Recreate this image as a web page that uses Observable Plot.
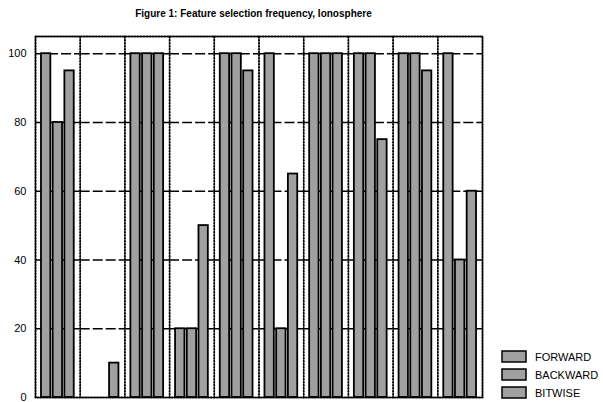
<!DOCTYPE html>
<html>
<head>
<meta charset="utf-8">
<script src="https://cdn.jsdelivr.net/npm/d3@7"></script>
<script src="https://cdn.jsdelivr.net/npm/@observablehq/plot@0.6"></script>
<style>
  html, body { margin: 0; padding: 0; background: #fff; }
  #wrap { position: relative; width: 603px; height: 402px; font-family: "Liberation Sans", Arial, sans-serif; }
  #title { position: absolute; left: 0; top: 8px; width: 507px; text-align: center; font-weight: bold; font-size: 10px; color: #000; white-space: nowrap; }
  #chart { position: absolute; left: 0; top: 0; }
  #legend { position: absolute; left: 0; top: 0; }
</style>
</head>
<body>
<div id="wrap">
  <div id="chart"></div>
  <div id="title">Figure 1: Feature selection frequency, Ionosphere</div>
  <div id="legend"></div>
</div>
<script>
const groups = ["1", "2", "3", "4", "5", "6", "7", "8", "9", "10"];
const series = ["FORWARD", "BACKWARD", "BITWISE"];
const forward  = [100, 0, 100, 20, 100, 100, 100, 100, 100, 100];
const backward = [80, 0, 100, 20, 100, 20, 100, 100, 100, 40];
const bitwise  = [95, 10, 100, 50, 95, 65, 100, 75, 95, 60];
const yTicks = [0, 20, 40, 60, 80, 100];

const valuesBySeries = [forward, backward, bitwise];
const data = groups.flatMap((g, i) => series.map((s, j) => ({group: g, series: s, value: valuesBySeries[j][i]})));

const fillGray = "#a0a0a0";

const chart = Plot.plot({
  width: 603,
  height: 402,
  marginTop: 36,
  marginBottom: 5,
  marginLeft: 35,
  marginRight: 121,
  style: {fontFamily: "'Liberation Sans', Arial, sans-serif", fontSize: "11px", color: "#000", background: "transparent", overflow: "visible"},
  fx: {domain: groups, padding: 0, round: false, axis: null},
  x: {domain: series, paddingInner: 0.2, paddingOuter: 0.51, round: false, axis: null},
  y: {domain: [0, 105], ticks: yTicks, tickSize: 0, tickPadding: 9, label: null, tickFormat: d => String(d)},
  marks: [
    Plot.ruleY(yTicks.filter(d => d > 0), {stroke: "#000", strokeWidth: 1.5, strokeDasharray: "10,3"}),
    Plot.frame({stroke: "#000", strokeWidth: 1.5, strokeDasharray: "2,1"}),
    Plot.barY(data, {fx: "group", x: "series", y: "value", fill: fillGray, stroke: "#000", strokeWidth: 1.8}),
    Plot.frame({facet: "super", stroke: "#000", strokeWidth: 1.5})
  ]
});
document.getElementById("chart").appendChild(chart);

// Legend
const lg = d3.select("#legend").append("svg")
  .attr("width", 603).attr("height", 402)
  .style("font-family", "'Liberation Sans', Arial, sans-serif");
const items = lg.selectAll("g").data(series).join("g")
  .attr("transform", (d, i) => `translate(502,${351 + i * 18})`);
items.append("rect").attr("width", 24).attr("height", 11)
  .attr("fill", fillGray).attr("stroke", "#000").attr("stroke-width", 1.5);
items.append("text").attr("x", 33).attr("y", 10).attr("font-size", 11).attr("fill", "#000").text(d => d);
</script>
</body>
</html>
